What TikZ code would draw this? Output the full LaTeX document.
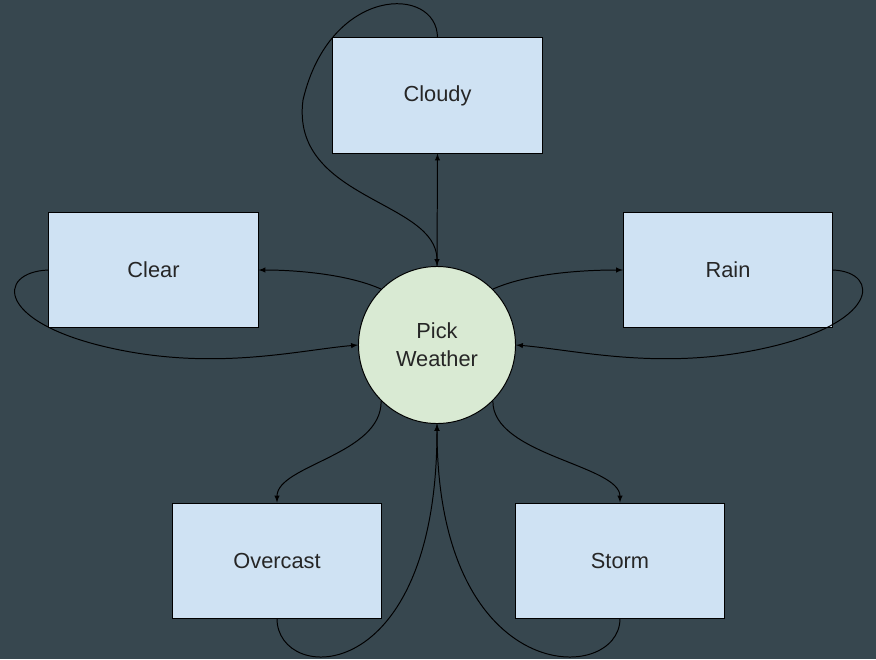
\documentclass[tikz,border=0pt]{standalone}
\usepackage{fontspec}
\setmainfont{Liberation Sans}
\usepackage{xcolor}
\usepackage{tikz}

\definecolor{slate}{HTML}{37474F}
\definecolor{boxblue}{HTML}{CFE2F3}
\definecolor{pickgreen}{HTML}{D9EAD3}

\begin{document}
\begin{tikzpicture}[x=0.025cm, y=-0.025cm, >=latex,
    state/.style={rectangle, draw=black, line width=0.7pt, fill=boxblue, minimum width=5.225cm, minimum height=2.875cm, font=\fontsize{15.5}{20}\selectfont, text=black!85},
    hub/.style={circle, draw=black, line width=0.7pt, fill=pickgreen, minimum size=3.925cm, inner sep=0pt, align=center, font=\fontsize{15.5}{20}\selectfont, text=black!85},
    link/.style={->, line width=0.7pt, draw=black}]
    % Background
    \fill[slate] (0,0) rectangle (876,659);
    \useasboundingbox (0,0) rectangle (876,659);

    % Nodes
    \node (pick) [hub] at (437,345) {Pick\\Weather};
    \node (cloudy) [state] at (437.5,95.5) {Cloudy};
    \node (clear) [state] at (153.5,270) {Clear};
    \node (rain) [state] at (728,270) {Rain};
    \node (overcast) [state] at (277,560.5) {Overcast};
    \node (storm) [state] at (620,560.5) {Storm};

    % Arrows out of Pick Weather
    \draw[link] (pick.north) -- (cloudy.south);
    \draw[link] (pick.135) .. controls (350,275) and (300,270) .. (clear.east);
    \draw[link] (pick.45) .. controls (524,275) and (574,270) .. (rain.west);
    \draw[link] (pick.225) .. controls (382,455) and (277,465) .. (overcast.north);
    \draw[link] (pick.315) .. controls (492,455) and (620,465) .. (storm.north);

    % Arrows back into Pick Weather
    \draw[link] (cloudy.north) .. controls (437,-15) and (330,-15) .. (303,100)
        .. controls (290,200) and (437,200) .. (pick.north);
    \draw[link] (clear.west) .. controls (-5,272) and (-5,325) .. (120,350)
        .. controls (220,370) and (300,350) .. (pick.west);
    \draw[link] (rain.east) .. controls (881,272) and (881,325) .. (756,350)
        .. controls (656,370) and (576,350) .. (pick.east);
    \draw[link] (overcast.south) .. controls (277,685) and (437,690) .. (pick.south);
    \draw[link] (storm.south) .. controls (620,685) and (437,690) .. (pick.south);
\end{tikzpicture}
\end{document}
